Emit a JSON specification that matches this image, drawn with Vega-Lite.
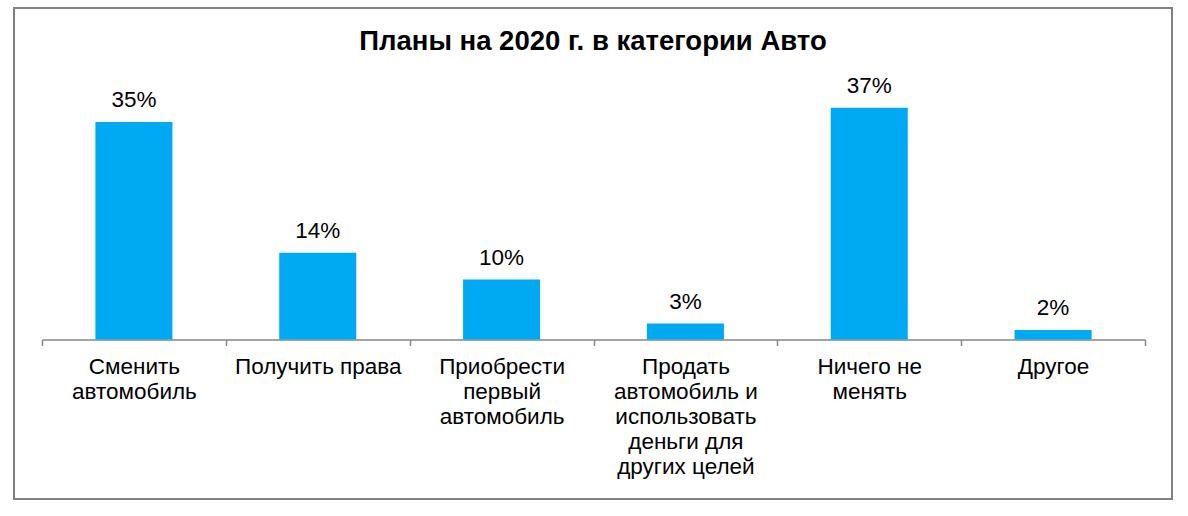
{
  "$schema": "https://vega.github.io/schema/vega-lite/v6.json",
  "autosize": "none",
  "width": 1158,
  "height": 491,
  "padding": {"left": 14, "top": 8, "right": 16, "bottom": 17},
  "background": "white",
  "title": {
    "text": "Планы на 2020 г. в категории Авто",
    "font": "Liberation Sans",
    "fontSize": 27.5,
    "fontWeight": "bold",
    "color": "black",
    "anchor": "middle",
    "baseline": "alphabetic",
    "offset": -44,
    "dy": 25
  },
  "data": {
    "values": [
      {"category": "Сменить\nавтомобиль", "share": 0.348},
      {"category": "Получить права", "share": 0.139},
      {"category": "Приобрести\nпервый\nавтомобиль", "share": 0.096},
      {"category": "Продать\nавтомобиль и\nиспользовать\nденьги для\nдругих целей", "share": 0.0256},
      {"category": "Ничего не\nменять", "share": 0.371},
      {"category": "Другое", "share": 0.0152}
    ]
  },
  "encoding": {
    "x": {
      "field": "category",
      "type": "nominal",
      "sort": null,
      "scale": {"range": [28, 1131], "paddingInner": 0, "paddingOuter": 0},
      "axis": {
        "orient": "bottom",
        "offset": -159.5,
        "title": null,
        "labelAngle": 0,
        "labelExpr": "split(datum.label, '\\n')",
        "labelFont": "Liberation Sans",
        "labelFontSize": 22.5,
        "labelColor": "black",
        "labelLineHeight": 25,
        "labelPadding": 10,
        "labelBaseline": "top",
        "labelLimit": 300,
        "labelOverlap": false,
        "labelBound": false,
        "domainColor": "#868686",
        "domainWidth": 1.5,
        "tickColor": "#868686",
        "tickWidth": 1.5,
        "tickSize": 6,
        "tickBand": "extent",
        "grid": false
      }
    },
    "y": {
      "field": "share",
      "type": "quantitative",
      "scale": {"domain": [-0.2552, 0.5304], "nice": false, "zero": false},
      "axis": null
    }
  },
  "layer": [
    {
      "mark": {"type": "bar", "color": "#00AAF2", "width": {"band": 0.419}},
      "encoding": {"y2": {"datum": 0}}
    },
    {
      "mark": {
        "type": "text",
        "font": "Liberation Sans",
        "fontSize": 22.5,
        "baseline": "alphabetic",
        "dy": -15,
        "color": "black"
      },
      "encoding": {"text": {"field": "share", "format": ".0%"}}
    }
  ],
  "config": {"view": {"stroke": "#808080", "strokeWidth": 2}}
}
